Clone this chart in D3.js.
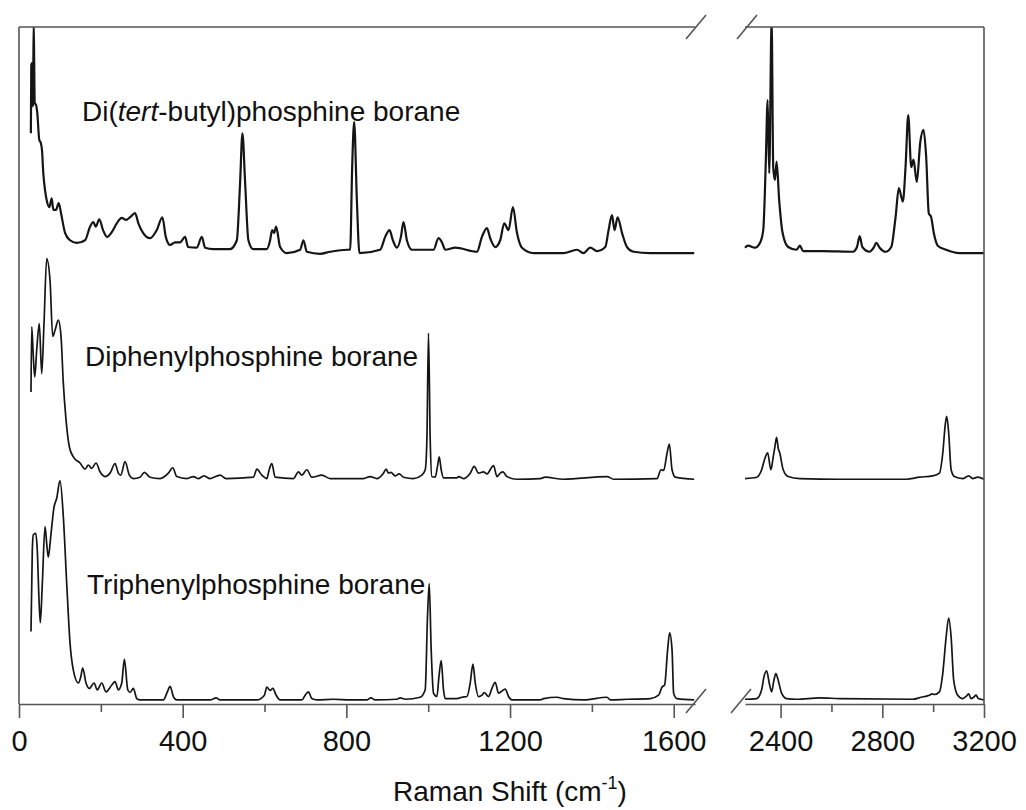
<!DOCTYPE html>
<html>
<head>
<meta charset="utf-8">
<style>
  body { margin: 0; background: #fff; }
  svg { display: block; font-family: "Liberation Sans", Arial, sans-serif; }
  .frame { stroke: #555; stroke-width: 1.6; fill: none; }
  .trace { fill: none; stroke: #151515; stroke-linejoin: round; }
  .axis path, .axis line { stroke: #555; stroke-width: 1.6; }
  .axis text { font-size: 29px; fill: #111; font-family: "Liberation Sans", Arial, sans-serif; }
  .label { font-size: 28px; fill: #111; }
</style>
</head>
<body>
<svg width="1026" height="810"></svg>
<script src="https://d3js.org/d3.v7.min.js"></script>
<script>
// Raman shift (cm-1), intensity (a.u., 0-100 over the plot height)
var tbuBorane = [
  [29,84.3],[30,94.4],[32.5,94.7],[34.2,88.2],[35.9,101],[38.4,88.8],[41.6,88.5],[44.7,87.3],
  [49.6,83.3],[53.1,82.9],[56.2,81.8],[59.4,78.4],[63.6,75.9],[67.7,74.4],[74.1,73.4],[80,74.7],
  [83.9,73],[90.5,73],[97.1,74],[102.7,72.5],[112.5,69.6],[124.7,68.5],[141.1,68.1],[161.4,68.5],
  [173.6,70.5],[181.7,71.2],[187.5,70.5],[196.3,71.6],[205.4,70],[215.2,69],[226.7,69.7],[238.9,71],
  [251.1,71.8],[261.6,71.5],[271.4,71.9],[283.6,72.5],[291.7,71],[303.2,69.6],[320.3,68.8],[336.7,70],
  [350.4,71.9],[358.7,69],[369.2,67.8],[381.4,68.2],[393.6,68.2],[405.9,69],[413.2,67.5],[434.5,67.4],
  [446.7,69],[454.8,67.4],[474.3,67.2],[515.9,67.2],[532.3,68.5],[540.3,77],[546,84.3],[552.6,77],
  [560.6,68.5],[572.1,67.2],[605.6,67.2],[613.7,68.5],[618.6,70],[623.5,69.6],[628.4,70.5],[638.1,67.5],
  [654.5,66.6],[687,67.1],[695.1,68.5],[703.4,66.8],[735.9,66.5],[760.4,66.8],[801.2,67.1],
  [809.3,67.1],[814.2,79.3],[819.1,86],[825.7,74.4],[832,66.6],[882.6,67.1],[894.9,69],[905.4,70],
  [913.7,68.5],[923.5,67.4],[933.3,69],[939.6,71.2],[947.9,68.5],[960.2,67.1],[1013,67.1],[1025.2,68.8],
  [1033.5,68.2],[1041.6,67.1],[1066,67.4],[1119.1,66.8],[1131.3,69],[1143.5,70.3],[1151.6,68.8],
  [1163.8,67.5],[1176,68.5],[1185.8,71],[1196.3,70],[1207.1,73.4],[1216.9,69.6],[1229.1,67.4],
  [1257.5,66.6],[1330.1,66.6],[1363.6,67.1],[1379,66.6],[1396.1,67.4],[1412.5,66.9],[1432.8,67.5],
  [1440.8,70],[1449.1,72.2],[1455.5,70],[1462.8,71.9],[1473.6,69.6],[1485.8,67.5],[1502,66.8],
  [1542.8,66.6],[1650,66.6],
  [2260,67.4],[2271.8,67.7],[2299.2,67.4],[2318.8,68.1],[2331.8,70],[2341.2,79.3],[2349,89.2],
  [2355.3,78.4],[2364.7,101],[2371,79.3],[2377.6,77.4],[2384.3,80.1],[2394.5,74.4],[2407.8,69.6],
  [2429.8,67.5],[2462.8,67.1],[2475.7,67.7],[2488.6,66.9],[2567.1,66.9],[2684.7,66.8],[2700.4,67.5],
  [2711,69.1],[2721.6,67.5],[2750.2,66.8],[2765.9,67.4],[2776.5,68.1],[2789.5,67.4],[2813,66.8],
  [2835.3,67.5],[2852.2,71.9],[2865.1,76.2],[2880.8,74.2],[2891.4,79.3],[2902,87],[2913.8,79.3],
  [2922.8,80.4],[2935.7,77.1],[2949.1,82.9],[2962,84.8],[2972.6,80.8],[2982.8,72.5],[2992.2,71.9],
  [3002.4,69.6],[3018.1,67.7],[3051.1,67.1],[3103.2,66.6],[3200,66.6]
];

var ph2Borane = [
  [29.3,46.1],[31.1,55.7],[35,51.3],[38.4,48.3],[43.3,52.3],[49.6,56.2],[55.5,48.8],[61.1,56.2],
  [67.7,65.8],[75.8,62.6],[82.4,54.3],[88,55.2],[96.1,56.7],[102.7,54.3],[108.3,47.4],[114.9,42],
  [123,38],[132.8,36.5],[149.1,35.6],[161.4,34.7],[169.4,35.3],[177.7,34.8],[188.3,35.6],[198,34.3],
  [210.3,33.6],[222.5,34.1],[234.7,35.5],[242.8,34.1],[248.7,33.8],[259.2,35.8],[269.7,33.8],[279.5,33.3],
  [295.8,33.5],[306.4,34.2],[320.3,33.5],[344.7,33.3],[365,34.1],[375.8,34.9],[385.6,33.6],[410,33.3],
  [426.2,33.6],[437.7,33.3],[452.3,33.7],[467,33.3],[491.4,33.8],[506.1,33.3],[572.9,33.5],[581.2,34.7],
  [593.4,33.8],[605.6,33.3],[611.3,34.6],[617.9,35.5],[625.9,33.5],[670.7,33.3],[682.9,34.3],[691.2,33.8],
  [703.4,34.6],[715.6,33.5],[740.1,33.8],[760.4,33.3],[841.8,33.3],[858.2,33.6],[874.6,33.3],[890.7,34.1],
  [897.3,34.7],[903,34.1],[908.8,34.2],[919.3,33.7],[929.1,34],[939.6,33.5],[964.1,33.3],[984.6,33.8],
  [992.7,34.6],[996.8,39],[1000.7,54.8],[1004.9,39],[1009,33.6],[1017.1,33.5],[1022.7,35.1],[1026.9,36.5],
  [1031.8,34.6],[1037.4,33.4],[1070.2,33.4],[1074.1,33.6],[1086.3,33.3],[1102.7,34.1],[1112.5,35.1],
  [1123,34.1],[1135.2,34.3],[1143.5,34],[1159.7,35.2],[1168,33.6],[1176,34.1],[1182.6,34.3],[1192.4,33.6],
  [1216.9,33.2],[1273.9,33.3],[1286,33.5],[1330,33.2],[1437,33.6],[1453,33.2],[1559,33.3],[1569,34.6],
  [1575.3,34.5],[1583.6,37],[1589.3,38.4],[1595.9,34.6],[1604,33.5],[1650,33.2],
  [2260,33.3],[2305.9,33.5],[2325.5,34.6],[2338.4,36.3],[2349,37.1],[2362,34.6],[2371,36.5],[2377.6,38],
  [2384.3,39.4],[2390.6,37.8],[2397.3,37],[2410.2,34.6],[2429.8,33.6],[2475.7,33.3],[2632.6,33.2],
  [2894.2,33.2],[2946.3,33.5],[2998.5,33.7],[3024.8,34.1],[3037.7,37],[3048.3,41.5],[3053.4,42.5],
  [3061.2,40],[3070.7,34.6],[3083.6,33.6],[3116.2,33.3],[3139.7,33.7],[3155.4,33.3],[3175,33.5],[3200,33.2]
];

var ph3Borane = [
  [29.3,10.7],[32.5,22.7],[35,25],[40.8,25.2],[44.7,22.7],[48.9,15.4],[52.1,12],[57,17.8],[63.6,26.2],
  [67.7,23.7],[71.6,21.7],[77.5,24.7],[85.6,29.1],[92.2,30.4],[100.2,33],[108.3,27.7],[116.6,17.8],
  [124.7,9],[132.8,5],[145,3.1],[150.9,4],[155.7,5.3],[163.8,3.1],[171.9,2.3],[183.4,3.1],[191.4,2.1],
  [202.2,3.1],[212.7,1.8],[226.7,2.8],[234.7,3.3],[242.8,2.1],[251.1,3.1],[257.5,6.6],[265.8,2.1],
  [271.4,1.7],[279.5,2.3],[287.8,0.8],[295.8,0.6],[352.8,0.6],[362.6,1.8],[369.2,2.6],[377.3,1.1],
  [385.6,0.6],[467,0.6],[481.7,0.9],[491.4,0.6],[581.2,0.6],[599.7,1.3],[605.6,2.5],[613.7,2],[620.3,2.3],
  [628.4,1.3],[638.1,0.6],[691.2,0.6],[699.3,1.3],[707.3,1.8],[715.6,0.8],[727.9,0.6],[768.5,0.7],
  [809.3,0.6],[850.1,0.6],[859.9,0.9],[870.4,0.6],[923.5,0.7],[931.5,0.9],[943.8,0.7],[980.4,1],
  [992.7,2.1],[998.3,12.9],[1002.5,17.8],[1007.3,8],[1013,1.6],[1021.3,1.1],[1026.2,4],[1031.8,6.4],
  [1037.4,2.1],[1041.6,0.8],[1070.2,0.8],[1082.4,1],[1094.6,1.1],[1102.7,3.1],[1109.3,5.9],[1115,3.1],
  [1123,1.1],[1131.3,1.3],[1136.9,1.7],[1147.4,1.1],[1155.7,2.3],[1163.8,3.2],[1171.9,1.6],[1177.8,1.8],
  [1188.3,2.2],[1196.4,1.1],[1204.7,0.6],[1273.9,0.6],[1282,0.8],[1314.7,1],[1330.9,0.8],[1379.7,0.6],
  [1436.9,1],[1445,0.6],[1485.8,0.7],[1542.8,0.8],[1563.1,1.3],[1571.4,2.5],[1577.8,2.8],[1585.1,8],
  [1590,10.5],[1595.9,8],[1599.8,1.6],[1608.1,0.8],[1650,0.6],
  [2260,0.7],[2305.9,0.8],[2325.5,2.1],[2334.5,4],[2345.1,4.9],[2355.3,3.1],[2364.7,1.8],[2373.7,3.5],
  [2381.6,4.5],[2390.6,3.5],[2403.9,1.6],[2423.5,0.8],[2462.8,0.7],[2554.1,0.9],[2632.6,0.8],[2920,0.7],
  [2953,1],[2977.7,1.2],[2985.5,1.3],[2997.3,1.5],[3005.2,1.4],[3024.8,1.8],[3037.7,4.5],[3051.1,9.9],
  [3061.2,12.7],[3070.7,9.9],[3080.9,3.5],[3096.6,1.3],[3116.2,0.8],[3131.9,1.2],[3139.7,1.5],
  [3149.1,0.8],[3159.3,1],[3168.7,1.3],[3177.7,0.8],[3200,0.6]
];

var leftDomain = [0, 1652];
var rightDomain = [2260, 3200];
var leftMajor = [0, 400, 800, 1200, 1600];
var leftMinor = [200, 600, 1000, 1400];
var rightMajor = [2400, 2800, 3200];
var rightMinor = [2600, 3000];

(function() {
  var svg = d3.select("svg");
  var plotTop = 27, plotBottom = 704, plotLeft = 19, plotRight = 984;
  var breakL = 695, breakR = 745;

  var xL = d3.scaleLinear().domain(leftDomain).range([plotLeft, breakL]);
  var xR = d3.scaleLinear().domain(rightDomain).range([breakR, plotRight]);
  var y = d3.scaleLinear().domain([0, 100]).range([plotBottom, plotTop]);

  svg.append("clipPath").attr("id", "clipL")
    .append("rect").attr("x", plotLeft).attr("y", plotTop)
    .attr("width", breakL - plotLeft).attr("height", plotBottom - plotTop);
  svg.append("clipPath").attr("id", "clipR")
    .append("rect").attr("x", breakR - 3).attr("y", plotTop)
    .attr("width", plotRight - breakR + 3).attr("height", plotBottom - plotTop);

  var traces = [
    {data: tbuBorane, w: 2.2},
    {data: ph2Borane, w: 1.7},
    {data: ph3Borane, w: 1.7}
  ];

  traces.forEach(function(t) {
    var lpart = t.data.filter(function(d) { return d[0] <= leftDomain[1]; });
    var rpart = t.data.filter(function(d) { return d[0] >= rightDomain[0]; });
    var lineL = d3.line().curve(d3.curveMonotoneX)
      .x(function(d) { return xL(d[0]); }).y(function(d) { return y(d[1]); });
    var lineR = d3.line().curve(d3.curveMonotoneX)
      .x(function(d) { return xR(d[0]); }).y(function(d) { return y(d[1]); });
    svg.append("path").attr("class", "trace").attr("clip-path", "url(#clipL)")
      .attr("stroke-width", t.w).attr("d", lineL(lpart));
    svg.append("path").attr("class", "trace").attr("clip-path", "url(#clipR)")
      .attr("stroke-width", t.w).attr("d", lineR(rpart));
  });

  // frame
  function frameLine(x1, y1, x2, y2) {
    svg.append("line").attr("class", "frame")
      .attr("x1", x1).attr("y1", y1).attr("x2", x2).attr("y2", y2);
  }
  frameLine(plotLeft, plotTop, plotLeft, plotBottom);
  frameLine(plotRight, plotTop, plotRight, plotBottom);
  frameLine(plotLeft, plotTop, breakL, plotTop);
  frameLine(breakR, plotTop, plotRight, plotTop);

  // axes
  function addAxis(scale, major, minor) {
    svg.append("g").attr("class", "axis").attr("transform", "translate(0," + plotBottom + ")")
      .call(d3.axisBottom(scale).tickValues(major).tickSize(14).tickSizeOuter(0)
        .tickPadding(12).tickFormat(d3.format("d")));
    var m = svg.append("g").attr("class", "axis").attr("transform", "translate(0," + plotBottom + ")")
      .call(d3.axisBottom(scale).tickValues(minor).tickSize(8).tickSizeOuter(0).tickFormat(""));
    m.select(".domain").remove();
  }
  addAxis(xL, leftMajor, leftMinor);
  addAxis(xR, rightMajor, rightMinor);

  // axis break marks
  [[breakL + 1, plotTop], [breakR + 2, plotTop], [breakL + 1, plotBottom - 3], [breakR - 4, plotBottom - 3]]
    .forEach(function(p) { frameLine(p[0] - 10, p[1] + 12, p[0] + 10, p[1] - 12); });

  // labels
  var t1 = svg.append("text").attr("class", "label").attr("x", 82).attr("y", 121);
  t1.append("tspan").text("Di(");
  t1.append("tspan").attr("font-style", "italic").text("tert");
  t1.append("tspan").text("-butyl)phosphine borane");
  svg.append("text").attr("class", "label").attr("x", 85).attr("y", 366).text("Diphenylphosphine borane");
  svg.append("text").attr("class", "label").attr("x", 87).attr("y", 594).text("Triphenylphosphine borane");

  var title = svg.append("text").attr("x", 510).attr("y", 801).attr("text-anchor", "middle")
    .attr("font-size", 28).attr("fill", "#111");
  title.append("tspan").text("Raman Shift (cm");
  title.append("tspan").attr("font-size", 18).attr("dy", -12).text("-1");
  title.append("tspan").attr("dy", 12).text(")");
})();
</script>
</body>
</html>
